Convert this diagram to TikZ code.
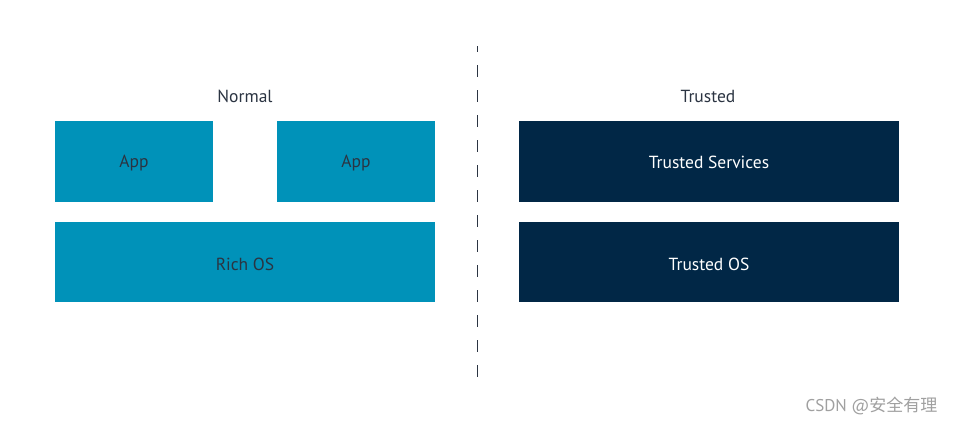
\documentclass[tikz,border=0pt]{standalone}
\usepackage{fontspec}
\setmainfont{PT Sans}
\newfontfamily\cjk{Noto Sans CJK SC}
\definecolor{nblue}{HTML}{0092B9}
\definecolor{tnavy}{HTML}{012746}
\definecolor{txtdark}{HTML}{2B3442}
\definecolor{wmgrey}{HTML}{A0A0A0}
\begin{document}
\begin{tikzpicture}[x=1pt,y=-1pt,
  normbox/.style={fill=nblue,draw=none,text=txtdark,font=\fontsize{17.5}{20}\selectfont},
  trustbox/.style={fill=tnavy,draw=none,text=white,font=\fontsize{17.5}{20}\selectfont},
  title/.style={text=txtdark,font=\fontsize{17.5}{20}\selectfont}]
\useasboundingbox (0,0) rectangle (954,424);
\fill[white] (0,0) rectangle (954,424);
% boxes
\path[normbox] (55,121) rectangle (213,202);
\node[normbox,fill=none] (app1) at (134,163) {App};
\path[normbox] (277,121) rectangle (435,202);
\node[normbox,fill=none] (app2) at (356,163) {App};
\path[normbox] (55,222) rectangle (435,302);
\node[normbox,fill=none] (rich) at (245,264) {Rich OS};
\path[trustbox] (519,121) rectangle (899,202);
\node[trustbox,fill=none] (tserv) at (709,162) {Trusted Services};
\path[trustbox] (519,222) rectangle (899,302);
\node[trustbox,fill=none] (tos) at (709,264) {Trusted OS};
% titles
\node[title] (normal) at (245,96) {Normal};
\node[title] (trusted) at (708,96) {Trusted};
% divider
\coordinate (dtop) at (477,46);
\coordinate (dbot) at (477,378);
\draw[txtdark,line width=1pt,dash pattern=on 12pt off 13pt,dash phase=6pt] (dtop) -- (dbot);
% watermark
\node[text=wmgrey,font=\fontsize{17}{19}\selectfont,anchor=east] (wm) at (941,406) {CSDN @{\cjk 安全有理}};
\end{tikzpicture}
\end{document}
